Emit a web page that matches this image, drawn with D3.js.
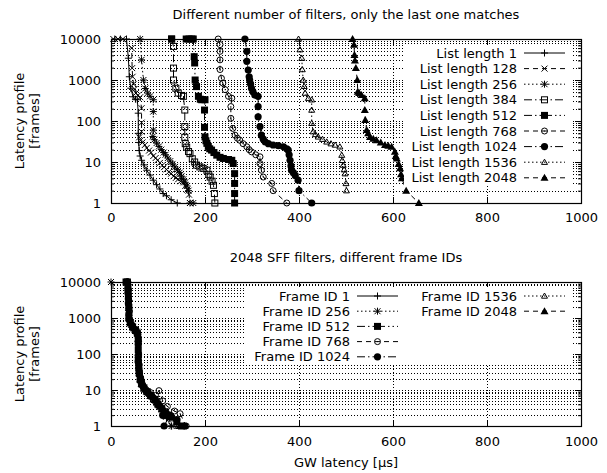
<!DOCTYPE html>
<html>
<head>
<meta charset="utf-8">
<script src="https://d3js.org/d3.v7.min.js"></script>
<style>
body { margin: 0; background: #fff; }
text { font-family: "DejaVu Sans", sans-serif; font-size: 13px; fill: #000; }
</style>
</head>
<body>
<script>
// DATOS panel de arriba: [latencia en µs, tramas]
var lista1 = [[8,10000],[20,10000],[33,10000],[37,3400],[39,1200],[42,630],[47,390],[52,340],[56,330],[58,155],[58,50],[59,30],[60,19],[62,14],[65,11],[70,8.5],[76,6.3],[83,4.8],[90,3.6],[97,2.8],[104,2.2],[111,1.7],[118,1.5],[128,1.2],[141,1]]
var lista128 = [[5,10000],[15,10000],[25,10000],[44,6000],[45,1950],[46,1200],[48,800],[50,600],[53,480],[57,420],[62,380],[65,205],[65,91],[65,55],[60,40],[63,34],[67,30],[72,26],[76,22],[81,19],[85,17],[90,14],[95,12.5],[99,11],[104,9.5],[109,8.3],[113,7.5],[118,6.6],[123,5.7],[128,5.2],[133,4.5],[138,4.1],[143,3.8],[148,3.4],[154,3.2],[158,2.6],[162,2.1],[166,1.6],[168,1]]
var lista256 = [[62,10000],[65,3100],[69,1000],[73,620],[78,480],[83,400],[90,330],[90,170],[90,60],[89,42],[92,35],[97,29],[102,24],[107,20],[112,17],[116,15],[121,12.5],[126,10.5],[131,9],[136,7.6],[141,6.5],[146,5.5],[150,4.5],[154,3.8],[158,3.2],[162,2.6],[165,2],[168,1],[175,1]]
var lista384 = [[129,10000],[133,6600],[133,1950],[133,1000],[138,630],[143,480],[150,420],[154,400],[157,185],[157,73],[157,40],[158,28],[161,23],[165,18],[168,16],[173,12],[178,10],[182,8.4],[189,7.6],[196,7],[204,6.3],[208,5],[211,4.3],[215,3.4],[218,2.7],[220,1.7],[221,1]]
var lista512 = [[129,10000],[160,10000],[166,10000],[172,10000],[175,10000],[177,3700],[178,2600],[179,1000],[182,690],[186,400],[190,340],[193,330],[200,330],[199,185],[199,70],[200,41],[202,33],[204,28.5],[207,24],[210,21],[214,19.5],[219,17],[225,14.7],[232,13],[239,12.2],[250,11.5],[257,11],[260,9.2],[263,5.2],[263,3],[263,1.7],[263,1]]
var lista768 = [[228,10000],[232,7300],[232,5000],[232,3100],[232,1800],[235,1100],[238,840],[243,580],[250,400],[257,360],[255,225],[255,116],[259,66],[264,45],[269,38],[274,34],[281,28],[289,23.5],[294,20],[299,17.7],[308,15],[317,13.4],[317,9.2],[320,6.3],[324,4.3],[342,3],[345,2],[374,1]]
var lista1024 = [[285,10000],[289,5000],[289,2850],[292,1750],[294,1200],[295,1000],[297,800],[299,630],[302,520],[306,430],[313,400],[313,225],[313,127],[317,73],[320,45],[324,36],[328,31],[335,28],[345,26],[356,25],[367,23.5],[374,21],[377,19.5],[379,15],[381,11],[383,8],[384,6.3],[388,5.5],[392,4.7],[398,3.6],[400,2],[427,1]]
var lista1536 = [[399,10000],[402,5500],[406,3400],[407,1800],[409,1000],[411,700],[413,480],[420,360],[427,330],[427,185],[427,88],[430,55],[435,47],[441,41],[450,36],[459,31],[468,28],[477,26],[487,23.5],[491,14.7],[492,11],[494,8.4],[496,6.5],[498,5.2],[500,3],[501,2]]
var lista2048 = [[514,10000],[517,7200],[518,4100],[519,3000],[521,1950],[524,1000],[525,520],[528,480],[533,430],[540,360],[540,185],[541,106],[544,60],[547,50],[551,41],[558,37],[565,34],[574,30],[583,26],[590,25],[597,23.5],[604,17.7],[606,14],[608,12.2],[612,9],[615,7],[617,5],[619,4],[628,2],[655,1]]

// DATOS panel de abajo
var frame1 = [[33,10000],[36,6500],[37,3500],[38,1800],[38,950],[42,700],[48,520],[54,430],[57,300],[58,200],[58,90],[59,40],[60,25],[62,17],[65,13],[70,10],[76,8],[84,6],[92,4.5],[100,3.5],[108,2.5],[118,1.6],[128,1]]
var frame256 = [[0,10000],[35,10000],[36,6800],[37,3300],[38,1900],[39,1000],[43,650],[50,480],[55,420],[58,220],[58,80],[59,35],[61,24],[64,15],[69,11],[75,9],[82,7],[90,5.5],[97,4.5],[104,3.4],[112,2.6],[120,2],[129,1]]
var frame512 = [[32,10000],[35,10000],[36,7000],[37,4000],[38,2000],[38,1000],[41,750],[46,560],[52,450],[56,380],[58,250],[58,130],[58,70],[59,45],[60,30],[62,20],[65,15],[70,11.5],[77,9],[85,7],[93,5.5],[100,4],[108,3],[115,2],[126,1.8],[140,1.3],[150,1]]
var frame768 = [[36,10000],[37,6000],[38,3000],[39,1500],[40,900],[44,640],[50,500],[56,400],[58,240],[59,100],[60,50],[61,28],[64,18],[68,13],[74,10.5],[84,8.5],[95,7],[102,9.6],[110,5],[120,3.5],[135,2.6],[147,2.2],[160,1]]
var frame1024 = [[34,10000],[36,5000],[37,2500],[38,1300],[40,850],[45,620],[52,470],[57,350],[58,180],[58,60],[60,32],[63,21],[67,14],[73,10],[80,8],[88,6.5],[96,5],[104,3.6],[110,2],[113,1],[125,2],[140,1.5],[157,1]]
var frame1536 = [[35,10000],[37,6000],[38,3200],[39,1700],[40,900],[45,620],[51,480],[57,400],[58,210],[59,75],[60,35],[62,22],[66,15],[71,11],[78,8.5],[86,6.5],[94,5],[102,3.6],[110,3],[120,2.2],[130,1.6],[142,1]]
var frame2048 = [[36,10000],[37,7000],[38,3600],[38,1900],[39,1000],[43,700],[49,520],[55,440],[58,260],[58,110],[59,48],[61,28],[63,19],[67,14],[72,11],[80,8.5],[88,7],[96,5.2],[104,4],[112,3],[120,2.5],[132,1.8],[146,1]]

var etiquetasArriba = ["List length 1","List length 128","List length 256","List length 384","List length 512","List length 768","List length 1024","List length 1536","List length 2048"]
var etiquetasAbajo = ["Frame ID 1","Frame ID 256","Frame ID 512","Frame ID 768","Frame ID 1024","Frame ID 1536","Frame ID 2048"]

var marcasX = [0,200,400,600,800,1000]
var marcasY = [1,10,100,1000,10000]

// ESTILOS (marcador, trazo)
var rayas = {solido: null, rayas: "5,4", puntos: "1.5,2.5", rayaPunto: "8,3,1.5,3", rayaPuntoPunto: "8,3,1.5,3,1.5,3"}
var estilosArriba = [["mas","solido"],["x","rayas"],["estrella","puntos"],["cuadro","rayaPunto"],["cuadroLleno","rayaPuntoPunto"],["circulo","rayas"],["circuloLleno","rayaPunto"],["triangulo","puntos"],["trianguloLleno","rayas"]]
var estilosAbajo = [["mas","solido"],["estrella","puntos"],["cuadroLleno","rayaPuntoPunto"],["circulo","rayas"],["circuloLleno","rayaPunto"],["triangulo","puntos"],["trianguloLleno","rayas"]]

var svg = d3.select("body").append("svg")
    .attr("width", 607)
    .attr("height", 473)

var izq = 111, der = 581

function marcador(g, tipo, cx, cy) {
    var r = 3.5
    if (tipo == "mas") {
        g.append("path").attr("d", "M" + (cx-r) + "," + cy + "H" + (cx+r) + "M" + cx + "," + (cy-r) + "V" + (cy+r))
            .attr("stroke", "#000").attr("fill", "none")
    } else if (tipo == "x") {
        g.append("path").attr("d", "M" + (cx-3) + "," + (cy-3) + "L" + (cx+3) + "," + (cy+3) + "M" + (cx-3) + "," + (cy+3) + "L" + (cx+3) + "," + (cy-3))
            .attr("stroke", "#000").attr("fill", "none")
    } else if (tipo == "estrella") {
        g.append("path").attr("d", "M" + (cx-r) + "," + cy + "H" + (cx+r) + "M" + cx + "," + (cy-r) + "V" + (cy+r)
                + "M" + (cx-3) + "," + (cy-3) + "L" + (cx+3) + "," + (cy+3) + "M" + (cx-3) + "," + (cy+3) + "L" + (cx+3) + "," + (cy-3))
            .attr("stroke", "#000").attr("fill", "none")
    } else if (tipo == "cuadro") {
        g.append("rect").attr("x", cx-3).attr("y", cy-3).attr("width", 6).attr("height", 6)
            .attr("stroke", "#000").attr("fill", "none")
    } else if (tipo == "cuadroLleno") {
        g.append("rect").attr("x", cx-3.5).attr("y", cy-3.5).attr("width", 7).attr("height", 7)
            .attr("fill", "#000")
    } else if (tipo == "circulo") {
        g.append("circle").attr("cx", cx).attr("cy", cy).attr("r", 3)
            .attr("stroke", "#000").attr("fill", "none")
        g.append("circle").attr("cx", cx).attr("cy", cy).attr("r", 0.6).attr("fill", "#000")
    } else if (tipo == "circuloLleno") {
        g.append("circle").attr("cx", cx).attr("cy", cy).attr("r", 3.6).attr("fill", "#000")
    } else if (tipo == "triangulo") {
        g.append("path").attr("d", "M" + cx + "," + (cy-3) + "L" + (cx+3) + "," + (cy+2.2) + "L" + (cx-3) + "," + (cy+2.2) + "Z")
            .attr("stroke", "#000").attr("fill", "none")
    } else if (tipo == "trianguloLleno") {
        g.append("path").attr("d", "M" + cx + "," + (cy-4) + "L" + (cx+4) + "," + (cy+3) + "L" + (cx-4) + "," + (cy+3) + "Z")
            .attr("fill", "#000")
    }
}

function panel(arriba, abajo, titulo, series, etiquetas, estilos, leyenda, idClip, padX) {

    var x = d3.scaleLinear().domain([0, 1000]).range([izq, der])
    var y = d3.scaleLog().domain([1, 10000]).range([abajo, arriba])

    var g = svg.append("g")

    // REJILLA
    var menores = []
    marcasY.slice(0, 4).forEach(function(d) {
        for (var k = 2; k <= 9; k++) menores.push(d * k)
    })
    var rejilla = g.append("g")
        .attr("stroke", "#000")
        .attr("stroke-width", 1)
        .attr("stroke-dasharray", "1,2")
        .attr("shape-rendering", "crispEdges")
    menores.concat(marcasY.slice(1, 4)).forEach(function(d) {
        var yy = Math.round(y(d)) + 0.5
        rejilla.append("line").attr("x1", izq).attr("x2", der).attr("y1", yy).attr("y2", yy)
    })
    marcasX.slice(1, 5).forEach(function(d) {
        var xx = Math.round(x(d)) + 0.5
        rejilla.append("line").attr("x1", xx).attr("x2", xx).attr("y1", arriba).attr("y2", abajo)
    })

    //EJE Y
    g.append("g")
        .attr("transform", "translate(" + izq + ",0)")
        .call(d3.axisLeft(y).tickValues(marcasY).tickFormat(d3.format("d")).tickSizeInner(-6).tickSizeOuter(0).tickPadding(10))
        .call(e => e.select(".domain").remove())
        .call(e => e.selectAll("text").style("font-size", "13px").style("font-family", "DejaVu Sans"))
    g.append("g")
        .attr("transform", "translate(" + izq + ",0)")
        .call(d3.axisLeft(y).tickValues(menores).tickFormat("").tickSizeInner(-3).tickSizeOuter(0))
        .call(e => e.select(".domain").remove())
    g.append("g")
        .attr("transform", "translate(" + der + ",0)")
        .call(d3.axisRight(y).tickValues(marcasY).tickFormat("").tickSizeInner(-6).tickSizeOuter(0))
        .call(e => e.select(".domain").remove())
    g.append("g")
        .attr("transform", "translate(" + der + ",0)")
        .call(d3.axisRight(y).tickValues(menores).tickFormat("").tickSizeInner(-3).tickSizeOuter(0))
        .call(e => e.select(".domain").remove())

    //EJE X
    g.append("g")
        .attr("transform", "translate(0," + abajo + ")")
        .call(d3.axisBottom(x).tickValues(marcasX).tickFormat(d3.format("d")).tickSizeInner(-6).tickSizeOuter(0).tickPadding(padX))
        .call(e => e.select(".domain").remove())
        .call(e => e.selectAll("text").style("font-size", "13px").style("font-family", "DejaVu Sans"))
    g.append("g")
        .attr("transform", "translate(0," + arriba + ")")
        .call(d3.axisTop(x).tickValues(marcasX).tickFormat("").tickSizeInner(-6).tickSizeOuter(0))
        .call(e => e.select(".domain").remove())

    // Marco
    g.append("rect")
        .attr("x", izq + 0.5).attr("y", Math.round(arriba) + 0.5)
        .attr("width", der - izq).attr("height", Math.round(abajo - arriba))
        .attr("fill", "none").attr("stroke", "#000").attr("stroke-width", 1.2)

    // Titulo
    g.append("text")
        .attr("x", (izq + der) / 2).attr("y", arriba - 20)
        .attr("text-anchor", "middle")
        .text(titulo)

    // Etiqueta eje Y
    var ey = g.append("g")
        .attr("transform", "translate(0," + (arriba + abajo) / 2 + ")")
    ey.append("text").attr("transform", "translate(19,0) rotate(-90)").attr("dy", "0.35em")
        .attr("text-anchor", "middle").text("Latency profile")
    ey.append("text").attr("transform", "translate(34,0) rotate(-90)").attr("dy", "0.35em")
        .attr("text-anchor", "middle").text("[frames]")

    // Lineas
    svg.append("clipPath").attr("id", idClip)
        .append("rect").attr("x", izq).attr("y", arriba).attr("width", der - izq).attr("height", abajo - arriba)

    var linea = d3.line()
        .x(d => x(d[0]))
        .y(d => y(d[1]))

    series.forEach(function(datos, i) {
        g.append("path")
            .datum(datos)
            .attr("clip-path", "url(#" + idClip + ")")
            .attr("fill", "none")
            .attr("stroke", "#000")
            .attr("stroke-width", 1)
            .attr("stroke-dasharray", rayas[estilos[i][1]])
            .attr("d", linea)
        var gm = g.append("g")
        datos.forEach(function(d) {
            marcador(gm, estilos[i][0], x(d[0]), y(d[1]))
        })
    })

    // LEYENDA
    g.append("rect")
        .attr("x", leyenda.caja[0]).attr("y", leyenda.caja[1])
        .attr("width", leyenda.caja[2] - leyenda.caja[0]).attr("height", leyenda.caja[3] - leyenda.caja[1])
        .attr("fill", "#fff")
    etiquetas.forEach(function(t, i) {
        var col = Math.floor(i / leyenda.filas)
        var fila = i % leyenda.filas
        var ty = leyenda.y0 + fila * leyenda.paso
        var tx = leyenda.textoDer[col]
        g.append("text")
            .attr("x", tx).attr("y", ty).attr("dy", "0.35em")
            .attr("text-anchor", "end")
            .text(t)
        g.append("line")
            .attr("x1", tx + 7).attr("x2", tx + 48)
            .attr("y1", ty).attr("y2", ty)
            .attr("stroke", "#000")
            .attr("stroke-dasharray", rayas[estilos[i][1]])
        marcador(g, estilos[i][0], tx + 27.5, ty)
    })
}

panel(39, 203, "Different number of filters, only the last one matches",
    [lista1, lista128, lista256, lista384, lista512, lista768, lista1024, lista1536, lista2048],
    etiquetasArriba, estilosArriba,
    {caja: [404, 45, 572, 186], filas: 9, y0: 53, paso: 15.6, textoDer: [517]}, "clipArriba", 10)

panel(282, 426, "2048 SFF filters, different frame IDs",
    [frame1, frame256, frame512, frame768, frame1024, frame1536, frame2048],
    etiquetasAbajo, estilosAbajo,
    {caja: [244, 287, 572, 365], filas: 5, y0: 296, paso: 15.2, textoDer: [350, 517]}, "clipAbajo", 11)

svg.append("text")
    .attr("x", (izq + der) / 2).attr("y", 467)
    .attr("text-anchor", "middle")
    .text("GW latency [µs]")
</script>
</body>
</html>
